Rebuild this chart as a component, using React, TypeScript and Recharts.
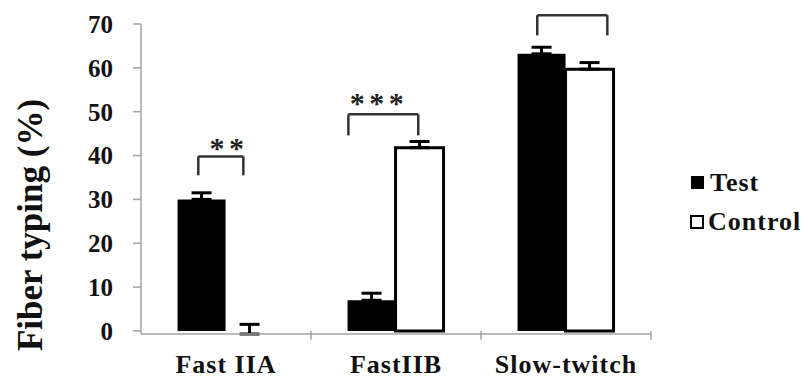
import React from 'react';
import {
  BarChart,
  Bar,
  Cell,
  XAxis,
  YAxis,
  ErrorBar,
  Legend,
  ReferenceLine,
  ReferenceDot
} from 'recharts';

// values
const categories = ['Fast IIA', 'FastIIB', 'Slow-twitch'];
const testValues = [30, 7, 63.2];
const testErrors = [1.5, 1.6, 1.5];
const controlValues = [0.3, 41.8, 59.7];
const controlErrors: [number, number][] = [[1.0, 1.2], [0, 1.4], [0, 1.5]];
const yTicks = [0, 10, 20, 30, 40, 50, 60, 70];

// significance brackets, x in category units (0..3) on a hidden numeric axis
const brackets = [
  { x1: 0.337, x2: 0.602, top: 39.8, end: 35.5, stars: '**', sx: 0.506, sy: 42.9 },
  { x1: 1.22, x2: 1.631, top: 49.4, end: 44.6, stars: '***', sx: 1.388, sy: 53.1 },
  { x1: 2.331, x2: 2.743, top: 72, end: 67.4, stars: '', sx: 0, sy: 0 }
];
const groupEdges = [1, 2, 3];

const data = categories.map((name, i) => ({
  name,
  test: testValues[i],
  testErr: [0, testErrors[i]],
  control: controlValues[i],
  controlErr: controlErrors[i]
}));

const AXIS_GRAY = '#a3a3a3';
const TEXT = '#111';

const YTitle = ({ viewBox }: any) => {
  const x = viewBox.x + 42;
  const y = viewBox.y + viewBox.height / 2 + 46;
  return (
    <text
      transform={`translate(${x},${y}) rotate(-90)`}
      textAnchor="middle"
      fontSize={35}
      fontWeight="bold"
      fill={TEXT}
    >
      Fiber typing (%)
    </text>
  );
};

const Stars = ({ viewBox, text }: any) => {
  const cx = viewBox.x + viewBox.width / 2;
  const cy = viewBox.y + viewBox.height / 2;
  return (
    <text
      x={cx + 2}
      y={cy}
      dy="0.49em"
      textAnchor="middle"
      fontSize={30}
      fontWeight="bold"
      letterSpacing={4.5}
      fill="#222"
    >
      {text}
    </text>
  );
};

const LegendBox = () => (
  <div
    style={{
      fontSize: 26,
      fontWeight: 'bold',
      lineHeight: '39px',
      letterSpacing: 1,
      color: TEXT
    }}
  >
    <div style={{ display: 'flex', alignItems: 'center' }}>
      <span style={{ width: 13, height: 13, background: '#000', marginRight: 6, marginLeft: 1 }} />
      Test
    </div>
    <div style={{ display: 'flex', alignItems: 'center' }}>
      <span
        style={{
          width: 10,
          height: 10,
          border: '2.5px solid #000',
          background: '#fff',
          marginRight: 4
        }}
      />
      Control
    </div>
  </div>
);

export default function App() {
  return (
    <div
      style={{
        position: 'absolute',
        left: 0,
        top: 0,
        background: '#fff',
        fontFamily: "'Liberation Serif', 'Times New Roman', serif"
      }}
    >
      <BarChart
        width={808}
        height={379}
        data={data}
        margin={{ top: 24, right: 157, left: 0, bottom: 0 }}
        barCategoryGap="21.5%"
        barGap={0}
      >
        <XAxis
          dataKey="name"
          height={45}
          tickLine={false}
          tickSize={0}
          tickMargin={21}
          axisLine={{ stroke: AXIS_GRAY, strokeWidth: 1.5 }}
          tick={{ fontSize: 26, fontWeight: 'bold', fill: TEXT, letterSpacing: 1 }}
          interval={0}
        />
        <XAxis
          xAxisId="b"
          dataKey="test"
          type="number"
          domain={[0, 3]}
          allowDataOverflow
          hide
        />
        <YAxis
          width={141}
          domain={[0, 70]}
          ticks={yTicks}
          interval={0}
          tickSize={8}
          tickMargin={20}
          axisLine={{ stroke: AXIS_GRAY, strokeWidth: 1.5 }}
          tickLine={{ stroke: AXIS_GRAY, strokeWidth: 1.5 }}
          tick={{ fontSize: 25, fontWeight: 'bold', fill: TEXT }}
          label={{ content: YTitle }}
        />
        <Legend
          layout="vertical"
          align="center"
          verticalAlign="middle"
          content={LegendBox}
          wrapperStyle={{ left: 690, top: 163, width: 118 }}
        />
        <Bar dataKey="test" name="Test" fill="#000" isAnimationActive={false}>
          <ErrorBar dataKey="testErr" width={10} strokeWidth={3} stroke="#000" />
        </Bar>
        <Bar
          dataKey="control"
          name="Control"
          fill="#fff"
          stroke="#000"
          strokeWidth={3}
          isAnimationActive={false}
        >
          {data.map((d, i) => (
            // the near-zero bar shows no outline in the original
            <Cell key={i} stroke={d.control < 1 ? 'none' : '#000'} fill={d.control < 1 ? 'none' : '#fff'} />
          ))}
          <ErrorBar dataKey="controlErr" width={10} strokeWidth={3} stroke="#000" />
        </Bar>
        {groupEdges.map((x) => (
          <ReferenceLine
            key={'edge' + x}
            xAxisId="b"
            ifOverflow="visible"
            segment={[{ x, y: 0 }, { x, y: -2 }]}
            stroke={AXIS_GRAY}
            strokeWidth={1.5}
          />
        ))}
        {brackets.map((b, i) => [
          <ReferenceLine
            key={'l' + i}
            xAxisId="b"
            ifOverflow="visible"
            segment={[{ x: b.x1, y: b.end }, { x: b.x1, y: b.top }]}
            stroke="#333"
            strokeWidth={2.5}
          />,
          <ReferenceLine
            key={'t' + i}
            xAxisId="b"
            ifOverflow="visible"
            segment={[{ x: b.x1, y: b.top }, { x: b.x2, y: b.top }]}
            stroke="#333"
            strokeWidth={2.5}
          />,
          <ReferenceLine
            key={'r' + i}
            xAxisId="b"
            ifOverflow="visible"
            segment={[{ x: b.x2, y: b.top }, { x: b.x2, y: b.end }]}
            stroke="#333"
            strokeWidth={2.5}
          />
        ])}
        {brackets
          .filter((b) => b.stars)
          .map((b, i) => (
            <ReferenceDot
              key={'s' + i}
              xAxisId="b"
              x={b.sx}
              y={b.sy}
              r={1}
              fill="none"
              stroke="none"
              ifOverflow="visible"
              label={(p: any) => <Stars {...p} text={b.stars} />}
            />
          ))}
      </BarChart>
    </div>
  );
}
